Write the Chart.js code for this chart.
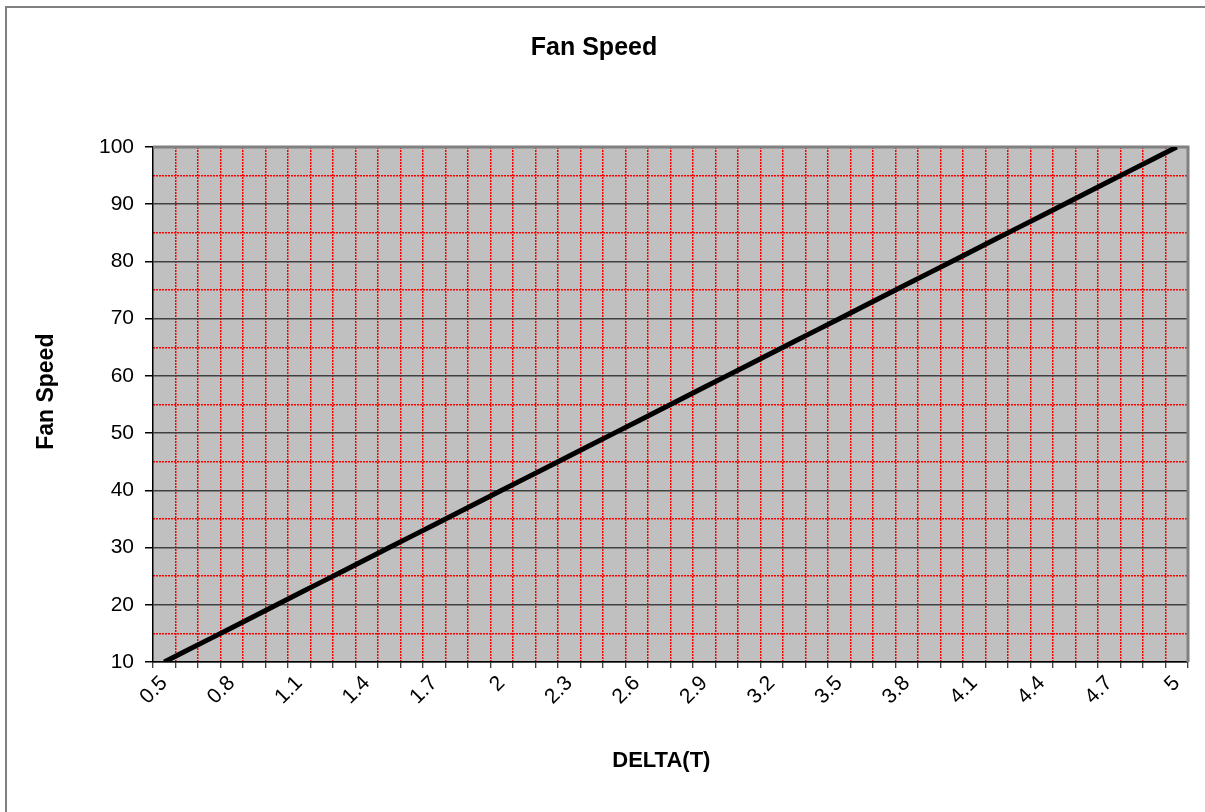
<!DOCTYPE html>
<html><head><meta charset="utf-8">
<script src="https://cdn.jsdelivr.net/npm/chart.js@4.4.0/dist/chart.umd.min.js"></script>
<style>html,body{margin:0;padding:0;background:#fff;overflow:hidden;} canvas{display:block;}</style>
</head><body>
<canvas id="c" width="1205" height="812"></canvas>
<script>
const categories = ['0.5','0.6','0.7','0.8','0.9','1','1.1','1.2','1.3','1.4','1.5','1.6','1.7','1.8','1.9','2','2.1','2.2','2.3','2.4','2.5','2.6','2.7','2.8','2.9','3','3.1','3.2','3.3','3.4','3.5','3.6','3.7','3.8','3.9','4','4.1','4.2','4.3','4.4','4.5','4.6','4.7','4.8','4.9','5'];
const fanSpeed = [10,12,14,16,18,20,22,24,26,28,30,32,34,36,38,40,42,44,46,48,50,52,54,56,58,60,62,64,66,68,70,72,74,76,78,80,82,84,86,88,90,92,94,96,98,100];
const xTickLabels = ['0.5','0.8','1.1','1.4','1.7','2','2.3','2.6','2.9','3.2','3.5','3.8','4.1','4.4','4.7','5'];
const yMajorTicks = [10,20,30,40,50,60,70,80,90,100];
const yMinorTicks = [15,25,35,45,55,65,75,85,95];

const FONT = "'Liberation Sans', Arial, sans-serif";
const NB = '\u00A0';

const framePlugin = {
  id: 'frame',
  beforeDraw(chart) {
    const {ctx, chartArea: a} = chart;
    ctx.save();
    ctx.fillStyle = '#ffffff';
    ctx.fillRect(0, 0, chart.width, chart.height);
    ctx.fillStyle = '#C0C0C0';
    ctx.fillRect(a.left, a.top, a.right - a.left, a.bottom - a.top);
    ctx.strokeStyle = '#808080';
    ctx.lineWidth = 2;
    ctx.beginPath();
    ctx.moveTo(6, chart.height + 5);
    ctx.lineTo(6, 7);
    ctx.lineTo(chart.width + 5, 7);
    ctx.stroke();
    ctx.restore();
  },
  beforeDatasetsDraw(chart) {
    const {ctx, chartArea: a} = chart;
    ctx.save();
    ctx.strokeStyle = '#808080';
    ctx.lineWidth = 3;
    ctx.beginPath();
    ctx.moveTo(a.left, a.top);
    ctx.lineTo(a.right, a.top);
    ctx.lineTo(a.right, a.bottom);
    ctx.stroke();
    ctx.restore();
  }
};

new Chart(document.getElementById('c'), {
  type: 'line',
  data: {
    labels: categories,
    datasets: [{
      data: fanSpeed,
      borderColor: '#000000',
      borderWidth: 5,
      pointRadius: 0,
      tension: 0,
      fill: false
    }]
  },
  options: {
    responsive: false,
    animation: false,
    devicePixelRatio: 1,
    layout: { padding: { left: 0, top: 0, right: 17, bottom: 0 } },
    plugins: {
      legend: { display: false },
      tooltip: { enabled: false },
      title: {
        display: true,
        text: 'Fan Speed',
        color: '#000',
        font: { family: FONT, size: 25, weight: 'bold' },
        padding: { top: 33, bottom: 84 }
      }
    },
    scales: {
      x: {
        type: 'category',
        offset: true,
        afterFit: s => { s.height = 150; },
        grid: {
          offset: true,
          color: c => (c.index === 0 ? 'rgba(0,0,0,0)' : '#ff0000'),
          lineWidth: 1.5,
          tickColor: '#000',
          tickLength: 6,
          tickWidth: 1
        },
        border: { display: true, color: '#000', width: 1.5, dash: [2, 1] },
        ticks: {
          autoSkip: false,
          maxRotation: 45,
          minRotation: 45,
          padding: 3,
          color: '#000',
          font: { family: FONT, size: 21 },
          callback: function(v, i) { const l = categories[i]; return xTickLabels.includes(l) ? l : ''; }
        },
        title: {
          display: true,
          text: 'DELTA(T)' + NB + NB + NB,
          color: '#000',
          font: { family: FONT, size: 22, weight: 'bold' },
          padding: { top: 0, bottom: 38 }
        }
      },
      y: {
        position: 'left',
        min: 10,
        max: 100,
        afterFit: s => { s.width = 153; },
        afterBuildTicks: s => { s.ticks = yMajorTicks.map(v => ({ value: v })); },
        grid: {
          color: '#404040',
          lineWidth: 1.5,
          tickColor: '#000',
          tickLength: 8,
          tickWidth: 1.5
        },
        border: { display: true, color: '#000', width: 1.5 },
        ticks: {
          padding: 11,
          color: '#000',
          font: { family: FONT, size: 21 }
        },
        title: {
          display: true,
          text: NB + NB + NB + NB + 'Fan Speed',
          color: '#000',
          font: { family: FONT, size: 23, weight: 'bold' },
          padding: { top: 33, bottom: 0 }
        }
      },
      y2: {
        position: 'right',
        min: 10,
        max: 100,
        afterFit: s => { s.width = 0; },
        afterBuildTicks: s => { s.ticks = yMinorTicks.map(v => ({ value: v })); },
        grid: { color: '#ff0000', lineWidth: 1.5, drawTicks: false },
        border: { display: false, dash: [2, 1] },
        ticks: { display: false }
      }
    }
  },
  plugins: [framePlugin]
});
</script>
</body></html>
